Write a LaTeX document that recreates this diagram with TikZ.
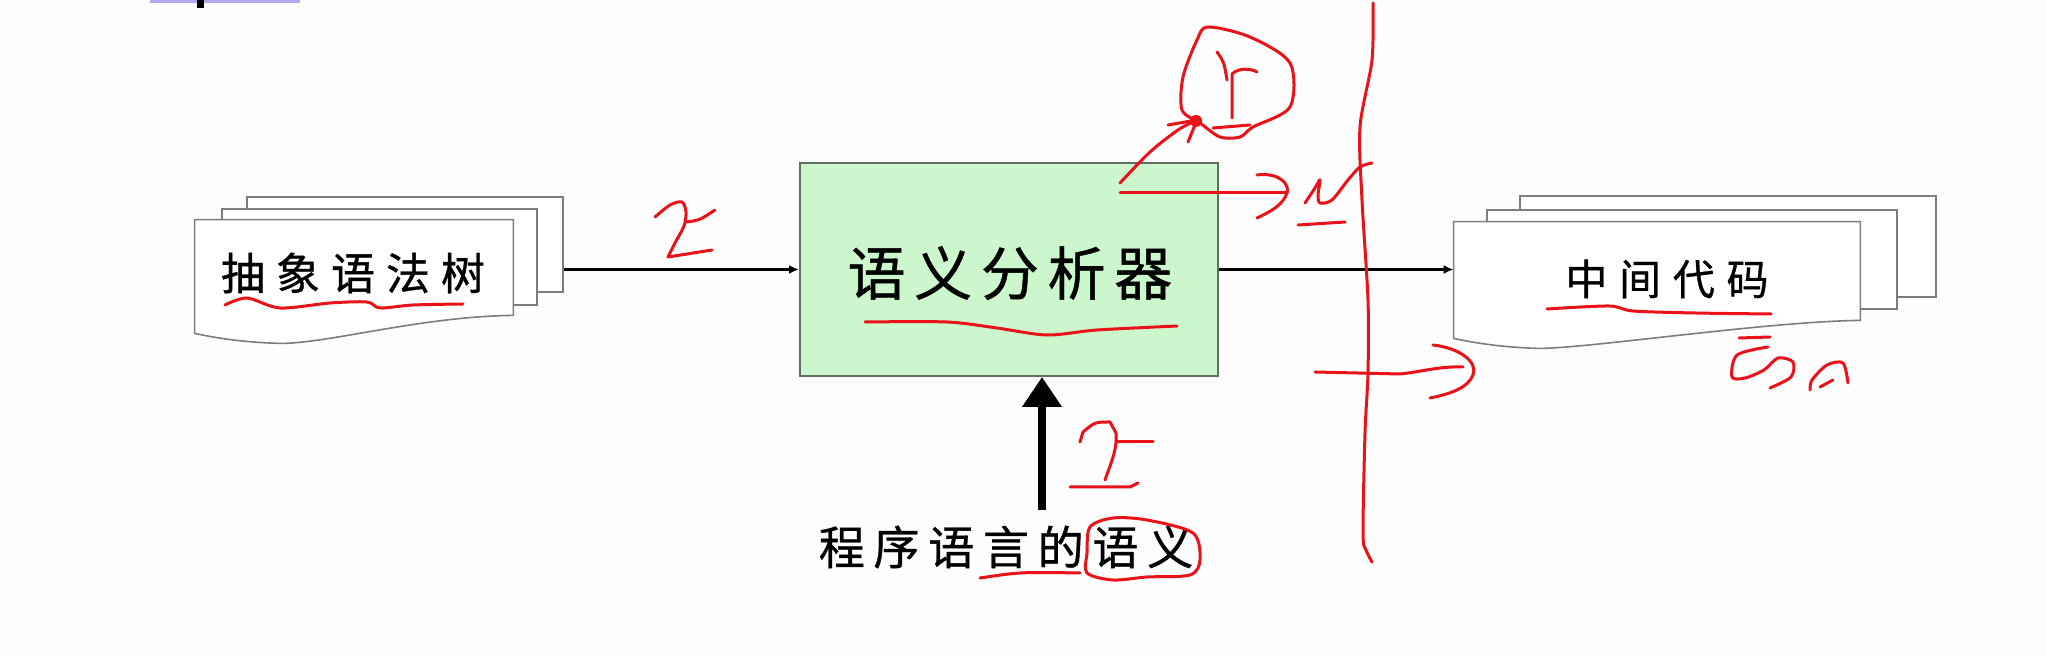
\documentclass[tikz,border=0pt]{standalone}
\usepackage{fontspec}
\usetikzlibrary{arrows.meta,positioning,fit}
\newfontfamily\cjk[FakeBold=0.8]{Noto Sans CJK SC}
\definecolor{boxgreen}{RGB}{204,246,204}
\definecolor{boxline}{RGB}{95,112,95}
\definecolor{pageline}{RGB}{125,125,125}
\definecolor{pen}{RGB}{232,18,24}
\definecolor{slidebg}{RGB}{253,253,253}
\definecolor{titlebar}{RGB}{176,170,240}

\tikzset{
  page/.style={draw=pageline, fill=white, line width=0.8pt, inner sep=0pt},
  analyzer/.style={draw=boxline, fill=boxgreen, line width=1pt,
    minimum width=209pt, minimum height=106.5pt, inner sep=0pt},
  arrow/.style={-{Latex[length=5pt,width=4.5pt]}, line width=1.1pt},
  bigarrow/.style={-{Triangle[length=15pt,width=19pt]}, line width=4pt},
  ink/.style={draw=pen, line width=1.5pt, line cap=round, line join=round}
}

% front page of a stack, wavy bottom
\newcommand\docfront[1]{%
  \draw[page] (#1.north west) -- (#1.north east) -- (#1.south east)
    .. controls ([xshift=-46pt,yshift=-0.5pt]#1.south east)
           and ([xshift=67pt,yshift=-14pt]#1.south west)
    .. ([xshift=43pt,yshift=-14pt]#1.south west)
    .. controls ([xshift=22pt,yshift=-13.5pt]#1.south west)
           and ([xshift=7pt,yshift=-10.5pt]#1.south west)
    .. ([yshift=-9pt]#1.south west) -- cycle;}

\begin{document}
\begin{tikzpicture}[x=0.5pt, y=-0.5pt]
  \fill[slidebg] (0,0) rectangle (2046,656);
  \useasboundingbox (0,0) rectangle (2046,656);
  \fill[titlebar] (150,0) rectangle (300,3);
  \fill[black] (197,0) rectangle (204,8);

  % abstract syntax tree
  \node[page, fit={(247,197) (563,292)}] (ast3) {};
  \node[page, fit={(222,209) (537,305)}] (ast2) {};
  \node[inner sep=0pt, fit={(195,220) (513,315)}] (ast1) {};
  \docfront{ast1}
  \node[font=\cjk\addfontfeature{LetterSpace=25}\fontsize{22pt}{26pt}\selectfont]
    (asttext) at (353,273) {抽象语法树};

  % analyzer
  \node[analyzer] (sema) at (1009,269.5) {};
  \node[font=\cjk\addfontfeature{LetterSpace=15}\fontsize{29pt}{34pt}\selectfont]
    (sematext) at (1010,273) {语义分析器};

  % intermediate code
  \node[page, fit={(1520,196) (1936,297)}] (ir3) {};
  \node[page, fit={(1487,210) (1897,309)}] (ir2) {};
  \node[inner sep=0pt, fit={(1454,222) (1860,320)}] (ir1) {};
  \docfront{ir1}
  \node[font=\cjk\addfontfeature{LetterSpace=28}\fontsize{21pt}{25pt}\selectfont]
    (irtext) at (1667,279) {中间代码};

  % semantics of the language
  \node[font=\cjk\addfontfeature{LetterSpace=19}\fontsize{23pt}{27pt}\selectfont]
    (semantics) at (1006,547) {程序语言的语义};
  \coordinate (tail) at (1042,510);

  \draw[arrow] (ast3.east |- sema.west) -- (sema.west);
  \draw[arrow] (sema.east) -- (ir1.west |- sema.east);
  \draw[bigarrow] (tail) -- (tail |- sema.south);

  % handwritten marks
  \draw[ink] plot[smooth] coordinates {(655,217) (670,205) (682,202) (686,212) (684,226) (675,243) (668,257)} -- (712,250);
  \draw[ink] (687,222) .. controls (700,220) .. (715,210);

  \draw[ink] plot[smooth] coordinates {(1120,183) (1150,152) (1178,130) (1197,120)};
  \draw[ink] (1168,125) -- (1197,120) -- (1188,142);
  \fill[pen] (1196,121) circle[radius=3pt];
  \draw[ink] plot[smooth cycle] coordinates {(1208,27) (1250,37) (1290,63) (1290,107) (1253,127) (1240,137) (1220,137) (1200,123) (1182,110) (1183,77) (1197,40)};
  \draw[ink] (1217,52) .. controls (1224,62) .. (1227,80);
  \draw[ink] (1232,118) -- (1232,74) .. controls (1238,68) and (1250,68) .. (1257,72);
  \draw[ink] (1213,128) -- (1250,125);

  \draw[ink] (1120,193) -- (1287,193);
  \draw[ink] (1257,175) .. controls (1280,172) and (1290,185) .. (1287,193)
    .. controls (1283,205) and (1270,212) .. (1257,218);
  \draw[ink] plot[smooth] coordinates {(1305,203) (1315,188) (1320,180) (1318,195) (1320,203) (1332,200) (1348,180) (1360,167) (1372,163)};
  \draw[ink] (1298,225) -- (1345,222);

  \draw[ink] plot[smooth] coordinates {(1373,3) (1372,60) (1360,127) (1362,200) (1368,300) (1368,372) (1365,433) (1363,533) (1366,550) (1372,562)};
  \draw[ink] (1315,372) -- (1400,374) .. controls (1420,372) and (1440,366) .. (1463,367);
  \draw[ink] (1433,345) .. controls (1460,348) and (1478,362) .. (1473,375)
    .. controls (1468,388) and (1450,394) .. (1430,398);

  \draw[ink] (1080,442) -- (1083,432) .. controls (1095,422) .. (1110,422) -- (1116,433)
    .. controls (1118,450) and (1108,470) .. (1105,480);
  \draw[ink] (1116,442) -- (1153,442);
  \draw[ink] (1070,487) -- (1130,487) -- (1138,483);
  \draw[ink] plot[smooth cycle] coordinates {(1087,553) (1090,527) (1113,518) (1147,520) (1193,533) (1200,560) (1190,575) (1147,577) (1113,580) (1087,573)};
  \draw[ink] (980,578) .. controls (1020,572) .. (1080,573);

  \draw[ink] plot[smooth] coordinates {(225,305) (247,298) (280,308) (330,303) (367,302) (380,308) (413,305) (463,304)};
  \draw[ink] plot[smooth] coordinates {(865,322) (947,322) (997,328) (1047,335) (1097,330) (1177,326)};
  \draw[ink] plot[smooth] coordinates {(1547,309) (1609,306) (1633,311) (1695,313) (1771,314)};

  \draw[ink] (1739,338) -- (1770,337);
  \draw[ink] plot[smooth] coordinates {(1768,347) (1737,355) (1732,377) (1745,378) (1764,370) (1778,358) (1793,362) (1791,377) (1770,388)};
  \draw[ink] plot[smooth] coordinates {(1810,390) (1812,380) (1827,365) (1843,363) (1848,383)};
  \draw[ink] (1820,387) -- (1833,380);
\end{tikzpicture}
\end{document}
